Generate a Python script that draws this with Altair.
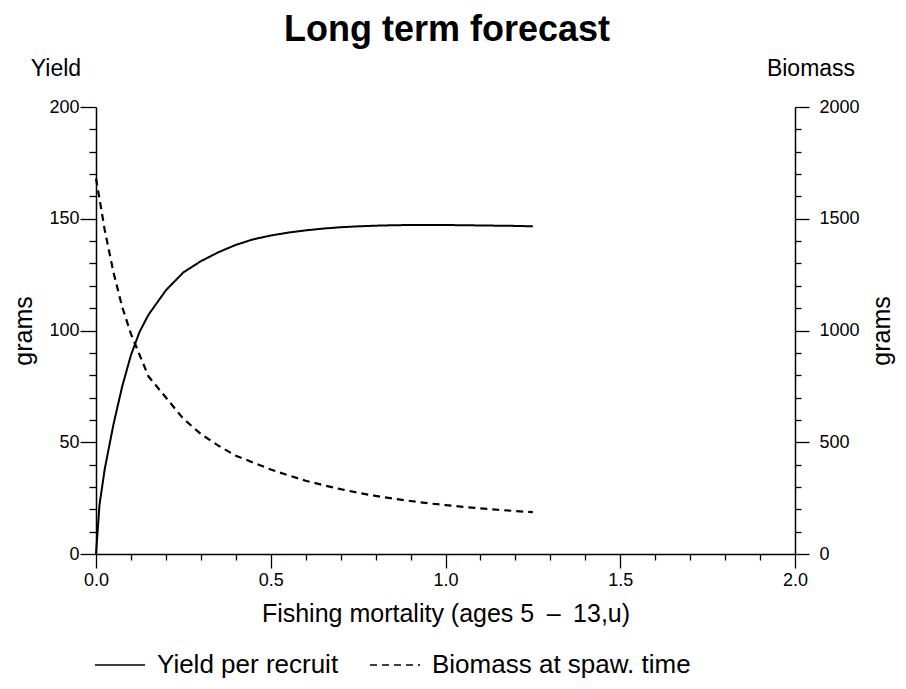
import altair as alt
import pandas as pd

# Fishing mortality grid
F = [0.0, 0.01, 0.025, 0.05, 0.075, 0.1, 0.125, 0.15, 0.2, 0.25, 0.3, 0.35, 0.4,
     0.45, 0.5, 0.55, 0.6, 0.65, 0.7, 0.75, 0.8, 0.85, 0.9, 0.95, 1.0, 1.05,
     1.1, 1.15, 1.2, 1.25]
# Yield per recruit (grams, left axis)
yield_per_recruit = [0, 22, 38, 58, 75, 89, 99.5, 107, 118, 126, 131, 135, 138.3,
                     140.8, 142.5, 143.8, 144.8, 145.6, 146.2, 146.6, 146.9, 147.1,
                     147.2, 147.2, 147.2, 147.1, 147.0, 146.9, 146.8, 146.6]
# Biomass at spawning time (grams, right axis)
biomass = [1680, 1590, 1450, 1260, 1105, 985, 890, 795, 700, 605, 537, 485, 440,
           409, 378, 352, 328, 308, 290, 274, 260, 248, 237, 227, 219, 211, 204,
           198, 192, 187]

series_names = ["Yield per recruit", "Biomass at spaw. time"]
x_ticks = [round(i * 0.1, 1) for i in range(21)]
yl_ticks = list(range(0, 201, 10))
yr_ticks = list(range(0, 2001, 100))
chart_title = "Long term forecast"
side_texts = ["Yield", "Biomass"]

FONT = "Liberation Sans"

df_y = pd.DataFrame({"F": F, "value": yield_per_recruit, "series": series_names[0]})
df_b = pd.DataFrame({"F": F, "value": biomass, "series": series_names[1]})

dash_scale = alt.Scale(domain=series_names, range=[[1, 0], [7, 5]])
legend = alt.Legend(
    title=None, orient="none", direction="horizontal", legendX=-2, legendY=532,
    symbolType="stroke", symbolSize=2500, symbolStrokeWidth=1.5,
    symbolStrokeColor="black", labelFont=FONT, labelFontSize=26,
    labelColor="black", labelOffset=11, columnPadding=28, labelLimit=500,
)

x_enc = alt.X(
    "F:Q",
    scale=alt.Scale(domain=[0, 2], nice=False, zero=False),
    axis=alt.Axis(
        values=x_ticks,
        labelExpr="round(datum.value*10) % 5 === 0 ? format(datum.value, '.1f') : ''",
        tickSize={"condition": {"test": "round(datum.value*10) % 5 === 0", "value": 14}, "value": 6},
        title="Fishing mortality (ages 5\u2002\u2013\u200213,u)",
        titleFont=FONT, titleFontSize=25, titleFontWeight="normal", titlePadding=12,
        titleColor="black",
        labelFont=FONT, labelFontSize=18, labelPadding=3, labelColor="black",
        domainColor="black", domainWidth=1.5, tickColor="black", tickWidth=1.3,
        grid=False, labelFlush=False,
    ),
)

yield_line = alt.Chart(df_y).mark_line(color="black", strokeWidth=2).encode(
    x=x_enc,
    y=alt.Y(
        "value:Q",
        scale=alt.Scale(domain=[0, 200], nice=False),
        axis=alt.Axis(
            orient="left", values=yl_ticks,
            labelExpr="datum.value % 50 === 0 ? datum.value : ''",
            tickSize={"condition": {"test": "datum.value % 50 === 0", "value": 16}, "value": 7},
            title="grams", titleFont=FONT, titleFontSize=25, titleFontWeight="normal",
            titlePadding=12, titleColor="black",
            labelFont=FONT, labelFontSize=18, labelPadding=1, labelColor="black",
            domainColor="black", domainWidth=1.5, tickColor="black", tickWidth=1.3,
            grid=False,
        ),
    ),
    strokeDash=alt.StrokeDash("series:N", scale=dash_scale, legend=legend),
)

bio_line = alt.Chart(df_b).mark_line(color="black", strokeWidth=2.2).encode(
    x=x_enc,
    y=alt.Y(
        "value:Q",
        scale=alt.Scale(domain=[0, 2000], nice=False),
        axis=alt.Axis(
            orient="right", values=yr_ticks,
            labelExpr="datum.value % 500 === 0 ? datum.value : ''",
            tickSize={"condition": {"test": "datum.value % 500 === 0", "value": 14}, "value": 6},
            title="grams", titleFont=FONT, titleFontSize=25, titleFontWeight="normal",
            titleAngle=270, titlePadding=35, titleColor="black",
            labelFont=FONT, labelFontSize=18, labelPadding=10, labelColor="black",
            domainColor="black", domainWidth=1.5, tickColor="black", tickWidth=1.3,
            grid=False,
        ),
    ),
    strokeDash=alt.StrokeDash("series:N", scale=dash_scale, legend=legend),
)

text_df = pd.DataFrame({"label": [chart_title] + side_texts})

title_mark = alt.Chart(text_df.iloc[[0]]).mark_text(
    font=FONT, fontSize=36, fontWeight="bold", color="black",
    align="center", baseline="alphabetic",
).encode(text="label:N", x=alt.value(351), y=alt.value(-66))

yield_lbl = alt.Chart(text_df.iloc[[1]]).mark_text(
    font=FONT, fontSize=23, color="black", align="center", baseline="middle"
).encode(text="label:N", x=alt.value(-40), y=alt.value(-38))

bio_lbl = alt.Chart(text_df.iloc[[2]]).mark_text(
    font=FONT, fontSize=23, color="black", align="center", baseline="middle"
).encode(text="label:N", x=alt.value(715), y=alt.value(-38))

chart = (
    alt.layer(yield_line, bio_line, title_mark, yield_lbl, bio_lbl)
    .resolve_scale(y="independent")
    .properties(
        width=699, height=447,
        padding={"left": 88, "top": 99, "right": 103, "bottom": 127},
        autosize=alt.AutoSizeParams(type="none"),
        background="white",
    )
    .configure_view(stroke=None)
)

chart.save("out.html", embed_options={"renderer": "svg", "actions": False})
